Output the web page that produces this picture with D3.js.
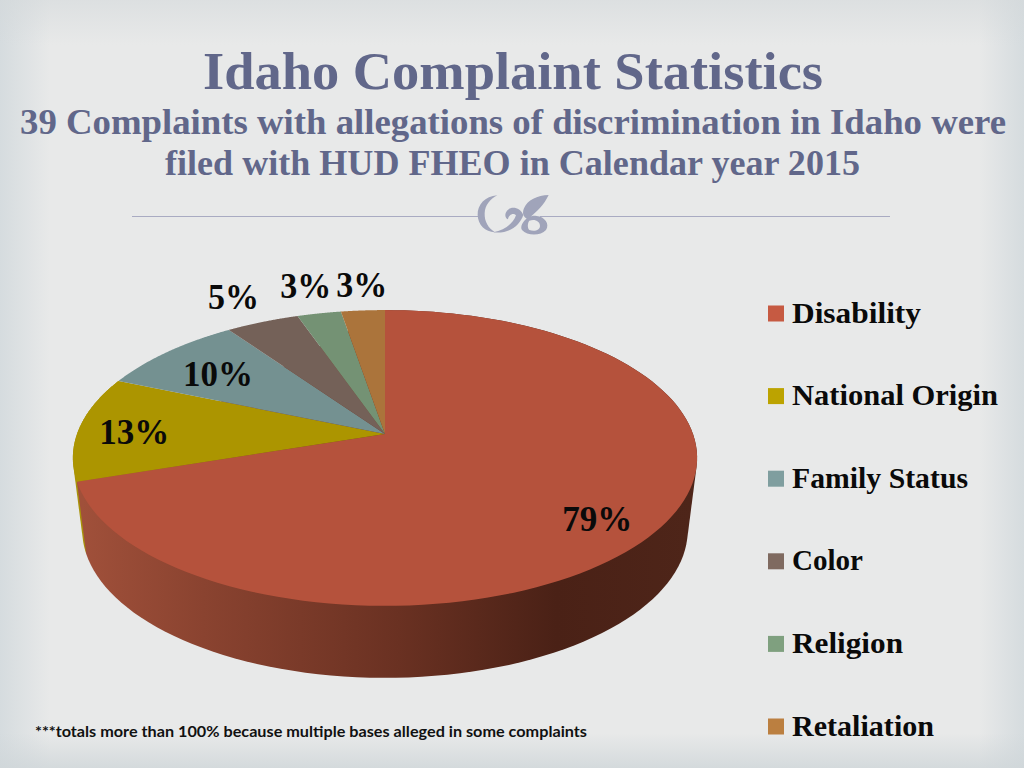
<!DOCTYPE html>
<html>
<head>
<meta charset="utf-8">
<script src="https://cdn.jsdelivr.net/npm/d3@7"></script>
<style>
    html, body { margin: 0; padding: 0; background: #e8e9e9; overflow: hidden; }
    text { font-family: "Liberation Serif", serif; font-weight: bold; }
</style>
</head>
<body>
<div id="vis"></div>
<script>
var categories = ['Disability', 'National Origin', 'Family Status', 'Color', 'Religion', 'Retaliation'];
var percents = [79, 13, 10, 5, 3, 3];
var legendColors = ['#c65a42', '#bca300', '#7f9e9f', '#7f6a60', '#7fa07f', '#bb7f40'];
var wallStops = ['#a0503a', '#8a4330', '#6a3122', '#4a2116', '#4e2519'];

var width = 1024, height = 768;

var svg = d3.select('#vis').append('svg')
            .attr('width', width)
            .attr('height', height)
            .style('display', 'block');
var defs = svg.append('defs');

// page background, soft bands along the edges
var addFade = function(id, x1, y1, x2, y2, col, op) {
    var g = defs.append('linearGradient').attr('id', id)
                .attr('x1', x1).attr('y1', y1).attr('x2', x2).attr('y2', y2);
    g.append('stop').attr('offset', '0%').attr('stop-color', col).attr('stop-opacity', op);
    g.append('stop').attr('offset', '100%').attr('stop-color', col).attr('stop-opacity', 0);
};
addFade('fadeL', 0, 0, 1, 0, '#cfd7db', 0.75);
addFade('fadeR', 1, 0, 0, 0, '#cfd7db', 0.75);
addFade('fadeT', 0, 0, 0, 1, '#d3d8da', 0.55);
addFade('fadeB', 0, 1, 0, 0, '#cfd6d9', 0.8);
svg.append('rect').attr('width', width).attr('height', height).attr('fill', '#e8e9e9');
svg.append('rect').attr('width', 50).attr('height', height).attr('fill', 'url(#fadeL)');
svg.append('rect').attr('x', width - 45).attr('width', 45).attr('height', height).attr('fill', 'url(#fadeR)');
svg.append('rect').attr('width', width).attr('height', 45).attr('fill', 'url(#fadeT)');
svg.append('rect').attr('y', height - 35).attr('width', width).attr('height', 35).attr('fill', 'url(#fadeB)');

// headings
var headColor = '#61678a';
var headings = [
    {t: 'Idaho Complaint Statistics', x: 203, w: 620, y: 89, s: 53},
    {t: '39 Complaints with allegations of discrimination in Idaho were', x: 20, w: 986, y: 134, s: 35},
    {t: 'filed with HUD FHEO in Calendar year 2015', x: 165, w: 695, y: 175, s: 35}
];
svg.selectAll('text.head').data(headings).enter().append('text')
   .attr('class', 'head')
   .attr('x', d => d.x)
   .attr('y', d => d.y)
   .attr('font-size', d => d.s)
   .attr('textLength', d => d.w)
   .attr('lengthAdjust', 'spacingAndGlyphs')
   .attr('fill', headColor)
   .text(d => d.t);

// divider with ornament
svg.append('line').attr('x1', 132).attr('x2', 480).attr('y1', 216.5).attr('y2', 216.5)
   .attr('stroke', '#a9abc2').attr('stroke-width', 1.2);
svg.append('line').attr('x1', 540).attr('x2', 890).attr('y1', 216.5).attr('y2', 216.5)
   .attr('stroke', '#a9abc2').attr('stroke-width', 1.2);
var orn = svg.append('g').attr('transform', 'translate(440,180) scale(0.3333)').attr('fill', '#a0a4ba');
orn.append('path').attr('d', 'M172,46 C135,48 112,75 113,105 C114,135 135,155 165,157 C145,145 133,125 134,100 C135,75 150,58 172,46 Z');
orn.append('path').attr('d', 'M160,157 C210,162 240,135 250,105 C240,80 212,78 201,92 C193,103 195,115 204,118 C206,104 220,97 228,106 C220,130 195,150 160,157 Z');
orn.append('path').attr('d', 'M326,45 C292,46 262,60 252,85 C246,100 250,110 260,116 C248,124 240,140 246,150 C262,168 302,168 318,150 C330,132 314,110 290,108 C280,107 276,108 272,110 C290,95 312,75 326,45 Z M268,122 C285,116 300,124 300,138 C300,150 284,156 268,150 C262,145 262,130 268,122 Z');

// tilted pie: circle projected in perspective
var apex = {x: 385, y: 434},
    rx = 308,
    ry = 144,
    tilt = -0.162,
    depth = 72,
    shrink = 0.97;

var project = function(angle, r) {
    var u = r * Math.sin(angle),
        v = -r * Math.cos(angle),
        den = 1 + tilt * v;
    return [apex.x + rx * u / den, apex.y + ry * v / den];
};
var projectLow = function(angle) {
    var p = project(angle, 1);
    return [apex.x + (p[0] - apex.x) * shrink, p[1] + depth];
};
var rim = function(a0, a1) {
    return d3.range(0, 121).map(i => a0 + (a1 - a0) * i / 120);
};
// outline of a slice's side, top face gets painted over the upper part
var wallOf = function(d) {
    var pts = rim(d.startAngle, d.endAngle);
    var hull = d3.polygonHull(pts.map(a => project(a, 1)).concat(pts.map(projectLow)));
    return line(hull) + 'Z';
};

var color = d3.scaleOrdinal().domain(categories).range(legendColors);
var pie = d3.pie().sort(null).value(d => d.value);
var arcs = pie(categories.map((c, i) => ({name: c, value: percents[i]})));
var line = d3.line();

var wallGrad = defs.append('linearGradient').attr('id', 'wall')
                   .attr('gradientUnits', 'userSpaceOnUse')
                   .attr('x1', 82).attr('x2', 690).attr('y1', 0).attr('y2', 0);
var stopAt = [0, 0.2, 0.52, 0.78, 1];
wallStops.forEach((c, i) => {
    wallGrad.append('stop').attr('offset', stopAt[i]).attr('stop-color', c);
});

// side wall, only the two slices that reach the front
var chart = svg.append('g');
chart.append('path').attr('d', wallOf(arcs[1])).attr('fill', '#a8920a');
chart.append('path').attr('d', wallOf(arcs[0])).attr('fill', 'url(#wall)');

// top face
chart.selectAll('path.slice').data(arcs).enter().append('path')
     .attr('class', 'slice')
     .attr('d', d => line([[apex.x, apex.y]].concat(rim(d.startAngle, d.endAngle).map(a => project(a, 1)))) + 'Z')
     .attr('fill', d => d3.color(color(d.data.name)).darker(0.25));

// data labels, nudged from a point on the slice
var labelNudge = [[-4, 12], [-6, 3], [10, 7], [-51, -45], [-25, -49], [-5, -47]];
chart.selectAll('text.val').data(arcs).enter().append('text')
     .attr('class', 'val')
     .attr('x', (d, i) => project((d.startAngle + d.endAngle) / 2, 0.8)[0] + labelNudge[i][0])
     .attr('y', (d, i) => project((d.startAngle + d.endAngle) / 2, 0.8)[1] + labelNudge[i][1] + 12)
     .attr('text-anchor', 'middle')
     .attr('font-size', 36)
     .attr('textLength', d => d.value >= 10 ? 70 : 51)
     .attr('lengthAdjust', 'spacingAndGlyphs')
     .attr('fill', '#0a0a0a')
     .text(d => d.value + '%');

// legend
var legendY = d3.scalePoint().domain(categories).range([313.5, 726.5]);
var legendWidths = [129, 206, 176, 71, 111, 142];
var legend = svg.selectAll('g.legend').data(categories).enter().append('g')
                .attr('class', 'legend')
                .attr('transform', d => `translate(768, ${legendY(d)})`);
legend.append('rect')
      .attr('y', -8).attr('width', 16).attr('height', 16)
      .attr('fill', d => color(d));
legend.append('text')
      .attr('x', 24).attr('y', 9)
      .attr('font-size', 30)
      .attr('textLength', (d, i) => legendWidths[i])
      .attr('lengthAdjust', 'spacingAndGlyphs')
      .attr('fill', '#0a0a0a')
      .text(d => d);

// footnote
svg.append('text')
   .attr('x', 35).attr('y', 737)
   .attr('font-size', 16)
   .attr('textLength', 552)
   .attr('lengthAdjust', 'spacingAndGlyphs')
   .attr('fill', '#111')
   .style('font-family', 'Lato, sans-serif')
   .text('***totals more than 100% because multiple bases alleged in some complaints');
</script>
</body>
</html>
